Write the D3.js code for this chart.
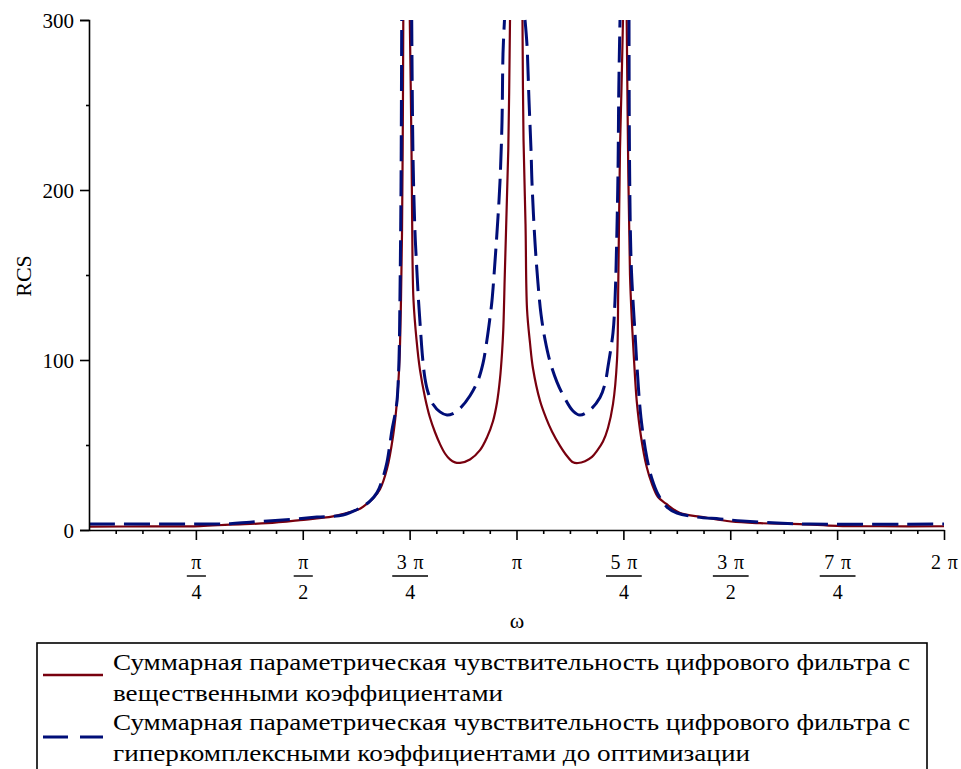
<!DOCTYPE html>
<html>
<head>
<meta charset="utf-8">
<script src="https://cdn.jsdelivr.net/npm/d3@7"></script>
<style>
  html, body { margin: 0; padding: 0; background: #fff; }
  svg { display: block; }
  text { font-family: "Liberation Serif", "Times New Roman", serif; fill: #000; }
</style>
</head>
<body>
<svg id="chart" width="961" height="769"></svg>
<script>
// ω is stored in multiples of π; null marks a pole (curve leaves the plot)
const omegaReal = [0, 0.1427, 0.2596, 0.3298, 0.4164, 0.4936, 0.5708, 0.6105, 0.6339, 0.6503, 0.6643, 0.6807, 0.6971, 0.7111, 0.7205, 0.7263, 0.7298, 0.7322, 0.7338, 0.7352,
  0.742,
  0.7504, 0.7544, 0.7567, 0.7591, 0.7661, 0.7743, 0.7860, 0.7977, 0.8094, 0.8211, 0.8327, 0.8444, 0.8561, 0.8678, 0.8912, 0.9146, 0.9310, 0.9450, 0.9544, 0.9614, 0.9661, 0.9691, 0.9726, 0.9754, 0.9808, 0.9848,
  1.0,
  1.0140, 1.0164, 1.0211, 1.0246, 1.0316, 1.0386, 1.0550, 1.0690, 1.0830, 1.1018, 1.1181, 1.1322, 1.1439, 1.1602, 1.1766, 1.1883, 1.2023, 1.2140, 1.2257, 1.2351, 1.2381, 1.2421, 1.2456, 1.2491,
  1.254,
  1.2578, 1.2615, 1.2655, 1.2695, 1.2749, 1.2812, 1.2912, 1.3046, 1.3170, 1.3310, 1.3497, 1.3825, 1.4363, 1.5018, 1.5696, 1.6632, 1.7497, 1.8503, 2.0];
const rcsReal = [2.0, 2.1, 2.3, 3.2, 4.0, 5.8, 8.0, 10.5, 12.5, 15.5, 18.5, 24, 36, 55, 76, 100, 135, 175, 225, 300,
  null,
  300, 224, 160, 135, 112, 94, 78, 66, 57.5, 50.5, 45, 41.5, 39.8, 39.5, 41.5, 47, 54.5, 64, 75, 89, 104, 118, 150, 175, 224, 300,
  null,
  300, 230, 180, 130, 110, 95, 76, 66, 58, 49.5, 43.5, 39.8, 39.4, 40.5, 43, 46.5, 52, 60, 74, 100, 145, 224, 260, 300,
  null,
  300, 210, 150, 125, 100, 76, 55, 37, 27, 19.4, 15.5, 10, 7.6, 5, 4, 3.5, 2.4, 2.2, 2.2];

const omegaHyper = [0, 0.1427, 0.2596, 0.3298, 0.3766, 0.4702, 0.5333, 0.5942, 0.6339, 0.6573, 0.6737, 0.6854, 0.6971, 0.7041, 0.7088, 0.7158, 0.7205, 0.7251, 0.7275, 0.7298, 0.7315,
  0.742,
  0.7549, 0.7579, 0.7626, 0.7665, 0.7708, 0.7754, 0.7801, 0.7860, 0.7930, 0.8047, 0.8211, 0.8374, 0.8515, 0.8678, 0.8912, 0.9099, 0.9216, 0.9310, 0.9380, 0.9427, 0.9497, 0.9567, 0.9614, 0.9661, 0.9684, 0.9719,
  1.0,
  1.0199, 1.0246, 1.0292, 1.0339, 1.0363, 1.0433, 1.0503, 1.0573, 1.0667, 1.0784, 1.0947, 1.1088, 1.1322, 1.1485, 1.1719, 1.1953, 1.2070, 1.2140, 1.2257, 1.2304, 1.2339, 1.2374, 1.2393, 1.2421,
  1.254,
  1.2632, 1.2643, 1.2678, 1.2725, 1.2772, 1.2819, 1.2912, 1.3053, 1.3170, 1.3310, 1.3520, 1.3754, 1.4222, 1.4760, 1.5275, 1.6094, 1.6865, 2.0];
const rcsHyper = [3.5, 3.5, 3.5, 3.7, 4.6, 6.2, 7.6, 8.8, 13, 17, 22, 29, 40, 51, 59, 68, 76, 100, 140, 200, 300,
  null,
  300, 220, 175, 155, 135, 118, 102, 89, 81, 74, 69.5, 67.6, 68.5, 71.5, 79, 88, 98, 112, 125, 135, 158, 184, 205, 240, 280, 300,
  null,
  300, 285, 253, 224, 204, 169, 145, 127, 112, 99, 87, 79.5, 70, 67.6, 70.6, 78, 86, 96, 116, 135, 165, 210, 260, 300,
  null,
  300, 220, 160, 135, 116, 96, 66, 42, 30, 21, 13.5, 10, 7.6, 6.5, 5.3, 4.1, 3.5, 3.5];

const yTicks = [0, 100, 200, 300];
const yMinorTicks = [50, 150, 250];
const xTickNumerators = ["π", "π", "3\u2004π", "π", "5\u2004π", "3\u2004π", "7\u2004π", "2\u2004π"];
const xTickDenominators = ["4", "2", "4", "", "4", "2", "4", ""];
const legendLabels = [
  ["Суммарная параметрическая чувствительность цифрового фильтра с", "вещественными коэффициентами"],
  ["Суммарная параметрическая чувствительность цифрового фильтра с", "гиперкомплексными коэффициентами до оптимизации"]
];
const colorReal = "#78000E";
const colorHyper = "#000E78";

const serif = '"Liberation Serif", "Times New Roman", serif';
const svg = d3.select("#chart");
const x = d3.scaleLinear().domain([0, 2 * Math.PI]).range([89, 944]);
const y = d3.scaleLinear().domain([0, 300]).range([530, 20]);

svg.append("defs").append("clipPath").attr("id", "plotClip")
  .append("rect").attr("x", 89).attr("y", 19).attr("width", 856).attr("height", 512);

const toPoints = (om, v) => om.map((o, i) => ({ w: o * Math.PI, v: v[i] }));
const line = d3.line()
  .defined(d => d.v != null)
  .x(d => x(d.w))
  .y(d => y(d.v))
  .curve(d3.curveCatmullRom.alpha(0.5));

const plot = svg.append("g").attr("clip-path", "url(#plotClip)");
plot.append("path")
  .datum(toPoints(omegaReal, rcsReal))
  .attr("fill", "none")
  .attr("stroke", colorReal)
  .attr("stroke-width", 2.2)
  .attr("d", line);
plot.append("path")
  .datum(toPoints(omegaHyper, rcsHyper))
  .attr("fill", "none")
  .attr("stroke", colorHyper)
  .attr("stroke-width", 3)
  .attr("stroke-dasharray", "26,9")
  .attr("d", line);

// y axis
const yAxis = svg.append("g").attr("transform", "translate(89,0)")
  .call(d3.axisLeft(y).tickValues(yTicks).tickSize(9).tickPadding(6).tickFormat(d3.format("d")));
svg.append("g").attr("transform", "translate(89,0)")
  .call(d3.axisLeft(y).tickValues(yMinorTicks).tickSize(3).tickFormat(""))
  .call(g => g.select(".domain").remove());
yAxis.selectAll("text").style("font-size", "21px").style("font-family", serif).attr("dy", "0.36em");

// x axis: major ticks every π/4, three minor ticks in between
const majorX = d3.range(1, 9).map(k => k * Math.PI / 4);
const minorX = d3.range(1, 33).filter(k => k % 4 !== 0).map(k => k * Math.PI / 16);
const xAxis = svg.append("g").attr("transform", "translate(0,530)")
  .call(d3.axisBottom(x).tickValues(majorX).tickSize(10).tickSizeOuter(0).tickFormat(""));
svg.append("g").attr("transform", "translate(0,530)")
  .call(d3.axisBottom(x).tickValues(minorX).tickSize(4).tickFormat(""))
  .call(g => g.select(".domain").remove());

svg.selectAll(".domain, .tick line").attr("stroke", "#000").attr("stroke-width", 1.6);

xAxis.selectAll(".tick").each(function (d, i) {
  const g = d3.select(this);
  const num = xTickNumerators[i];
  const den = xTickDenominators[i];
  const numText = g.append("text").attr("text-anchor", "middle")
    .style("font-size", "20px").style("font-family", serif)
    .attr("y", 39).text(num);
  if (den) {
    const denText = g.append("text").attr("text-anchor", "middle")
      .style("font-size", "20px").style("font-family", serif)
      .attr("y", 69).text(den);
    const w = Math.max(numText.node().getComputedTextLength(), denText.node().getComputedTextLength()) + 9;
    g.append("line").attr("x1", -w / 2).attr("x2", w / 2).attr("y1", 46).attr("y2", 46)
      .attr("stroke", "#000").attr("stroke-width", 1.4);
  }
});

// axis titles
svg.append("text").attr("x", 517).attr("y", 628).attr("text-anchor", "middle")
  .style("font-size", "22px").text("ω");
svg.append("text").attr("transform", "translate(31,276) rotate(-90)")
  .attr("text-anchor", "middle").style("font-size", "22px").text("RCS");

// legend
const legend = svg.append("g");
legend.append("rect").attr("x", 37).attr("y", 643).attr("width", 890).attr("height", 160)
  .attr("fill", "#fff").attr("stroke", "#000").attr("stroke-width", 1.6);
legend.append("line").attr("x1", 43).attr("x2", 103).attr("y1", 675).attr("y2", 675)
  .attr("stroke", colorReal).attr("stroke-width", 2.4);
legend.append("line").attr("x1", 43).attr("x2", 103).attr("y1", 737).attr("y2", 737)
  .attr("stroke", colorHyper).attr("stroke-width", 3).attr("stroke-dasharray", "25,12");
const baselines = [[670, 701], [730, 761]];
const widths = [[797, 390], [797, 637]];
legendLabels.forEach((lines, i) => {
  lines.forEach((t, j) => {
    legend.append("text").attr("x", 113).attr("y", baselines[i][j])
      .style("font-size", "23px")
      .attr("textLength", widths[i][j]).attr("lengthAdjust", "spacingAndGlyphs")
      .text(t);
  });
});
</script>
</body>
</html>
